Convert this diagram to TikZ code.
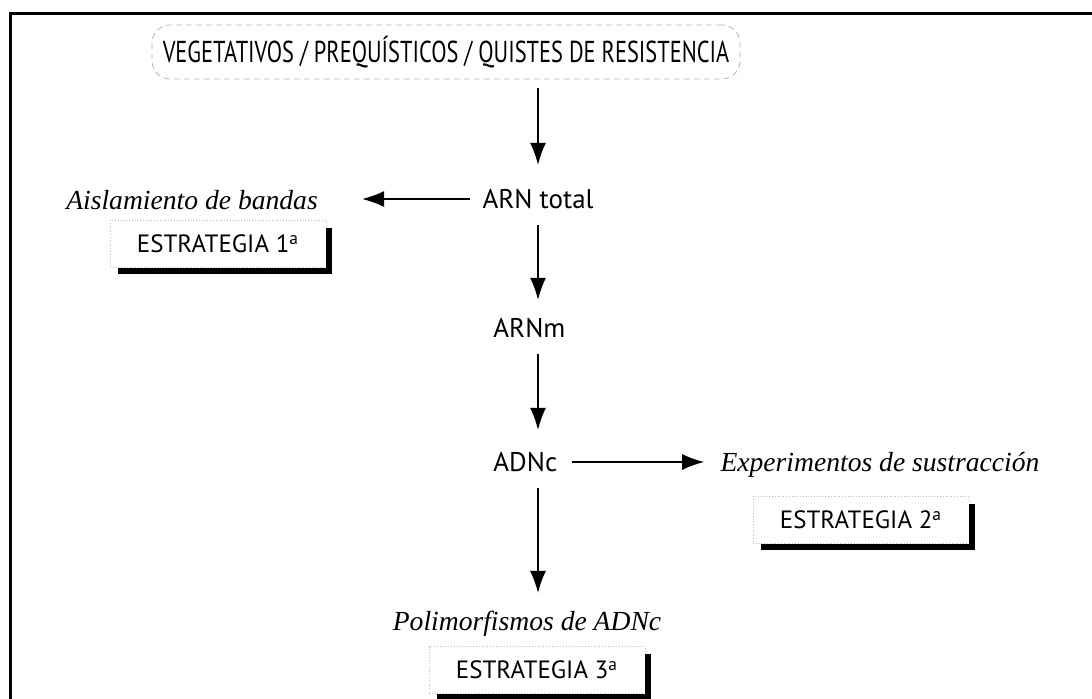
\documentclass[tikz,border=0pt]{standalone}
\usepackage{fontspec}
\setmainfont{Liberation Serif}
\newfontfamily\etiqfont{PT Sans}
\usetikzlibrary{arrows.meta,positioning}

\tikzset{
  etapa/.style={font=\etiqfont\fontsize{13.5}{15}\selectfont, inner sep=2pt},
  resultado/.style={font=\itshape\fontsize{13.8}{16}\selectfont, inner sep=2pt},
  estrategia/.style={draw=gray!50, densely dotted, font=\etiqfont\fontsize{12.5}{14}\selectfont,
    minimum width=108pt, minimum height=23.5pt, inner sep=2pt},
  flecha/.style={-{Latex[length=11pt,width=8pt]}, line width=0.7pt,
    shorten <=6pt, shorten >=7pt},
  sombra/.style={line width=3pt}
}

\begin{document}
\begin{tikzpicture}[x=0.5pt,y=-0.5pt]
        \useasboundingbox (0,0) rectangle (1092,699);
        % frame
        \draw[line width=1.5pt] (10,699) -- (10,14) -- (1092,14);

        % title
        \node[draw=gray!60, densely dashed, rounded corners=9pt, minimum width=294pt, minimum height=27pt,
              font=\etiqfont\fontsize{11.2}{13}\selectfont] (estadios) at (446,52)
              {\scalebox{1}[1.35]{VEGETATIVOS / PREQUÍSTICOS / QUISTES DE RESISTENCIA}};

        % main chain
        \node[etapa] (arntotal) at (538,199) {ARN total};
        \node[etapa, anchor=west] (arnm) at (489,328) {ARNm};
        \node[etapa, anchor=west] (adnc) at (489,462) {ADNc};

        % side results
        \node[resultado] (aislamiento) at (192,200) {Aislamiento de bandas};
        \node[estrategia] (est1) at (218,244) {ESTRATEGIA 1\textsuperscript{a}};
        \node[resultado] (experimentos) at (880,465) {Experimentos de sustracción};
        \node[estrategia] (est2) at (861,520) {ESTRATEGIA 2\textsuperscript{a}};
        \node[resultado] (polimorfismos) at (527,624) {Polimorfismos de ADNc};
        \node[estrategia] (est3) at (537,670) {ESTRATEGIA 3\textsuperscript{a}};

        % shadows
        \foreach \e in {est1,est2,est3}
          \draw[sombra] ([xshift=1.5pt,yshift=-4pt]\e.north east) -- ([xshift=1.5pt,yshift=-1.5pt]\e.south east)
                        -- ([xshift=4pt,yshift=-1.5pt]\e.south west);

        % arrows
        \draw[flecha, shorten <=4.5pt, shorten >=10pt] (estadios.south -| arntotal) -- (arntotal);
        \draw[flecha] (arntotal.south) -- (arntotal.south |- arnm.north);
        \draw[flecha, shorten >=9pt] (arnm.south -| arntotal) -- (adnc.north -| arntotal);
        \draw[flecha] (adnc.south -| arntotal) -- (arntotal |- polimorfismos.north);
        \draw[flecha, shorten <=4pt, shorten >=20pt] (arntotal.west) -- (aislamiento.east |- arntotal.west);
        \draw[flecha, shorten <=5pt, shorten >=6pt] (adnc) -- (experimentos.west |- adnc);
\end{tikzpicture}
\end{document}
